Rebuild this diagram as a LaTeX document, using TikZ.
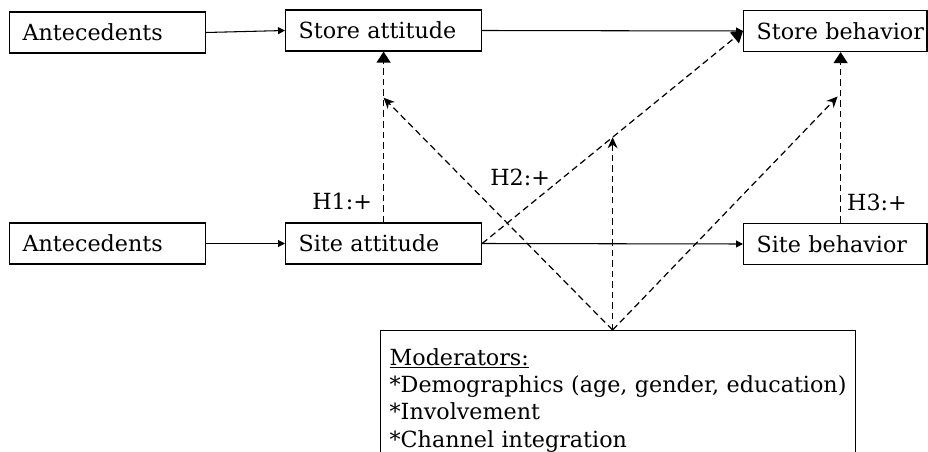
\documentclass[tikz,border=0pt]{standalone}
\usepackage{fontspec}
\setmainfont{DejaVu Serif}
\usetikzlibrary{arrows.meta,calc}
\tikzset{
	box/.style={draw, line width=0.7pt, inner xsep=0.26cm, inner ysep=0pt, minimum height=0.82cm, text width=#1, align=left, anchor=west},
	link/.style={line width=0.6pt, -{Triangle[length=0.14cm,width=0.14cm]}},
	hyp/.style={line width=0.7pt, dash pattern=on 3.7pt off 2.3pt, -{Triangle[length=0.22cm,width=0.28cm]}},
	modarrow/.style={line width=0.7pt, dash pattern=on 3.7pt off 2.3pt, -{Stealth[length=0.22cm,width=0.2cm]}},
	hlabel/.style={inner sep=0pt, pos=0.12}
}
\begin{document}
\begin{tikzpicture}[x=0.02cm, y=-0.02cm, font=\fontsize{12.65}{15.6}\selectfont]
	\useasboundingbox (0,0) rectangle (928,452);
	\clip (0,0) rectangle (928,452);
	% attitude and behavior boxes
	\node[box=3.4cm] (ant1) at (9,32.5) {Antecedents};
	\node[box=3.4cm] (satt) at (285,30.5) {Store attitude};
	\node[box=3.15cm] (sbeh) at (743,31) {\mbox{Store behavior}};
	\node[box=3.4cm] (ant2) at (9,243.5) {Antecedents};
	\node[box=3.4cm] (sitatt) at (285,243.5) {Site attitude};
	\node[box=3.15cm] (sitbeh) at (743,244) {\mbox{Site behavior}};
	\node[draw, line width=0.7pt, anchor=north west, inner xsep=0.18cm, inner ysep=10pt, text width=9.14cm, align=left] (mod) at (380,330)
		{\underline{Moderators:}\\{*}Demographics (age, gender, education)\\{*}Involvement\\{*}Channel integration};
	% points where the moderators act
	\coordinate (h3s) at ($(sitbeh.north)+(5.25,0)$);
	\coordinate (h3e) at ($(sbeh.south)+(5.25,0)$);
	\coordinate (m1) at ($(sitatt.north)!0.73!(satt.south)$);
	\coordinate (m2) at ($(sitatt.east)!0.5!(sbeh.west)$);
	\coordinate (m3) at ($(h3s)!0.74!(h3e)+(-3,0)$);
	\coordinate (mtop) at (m2 |- mod.north);
	% solid paths
	\draw[link] (ant1.east) -- (satt.west);
	\draw[link] (satt.east) -- (sbeh.west);
	\draw[link] (ant2.east) -- (sitatt.west);
	\draw[link] (sitatt.east) -- (sitbeh.west);
	% hypotheses
	\draw[hyp] (sitatt.north) -- node[hlabel, anchor=east, xshift=-0.22cm] (h1) {H1:+} (satt.south);
	\draw[hyp] (sitatt.east) -- node[hlabel, pos=0.31, anchor=east, xshift=-0.25cm] (h2) {H2:+} (sbeh.west);
	\draw[hyp] (h3s) -- node[hlabel, anchor=west, xshift=0.12cm] (h3) {H3:+} (h3e);
	% moderating effects
	\draw[modarrow] (mtop) -- (m1);
	\draw[modarrow] (mtop) -- (m2);
	\draw[modarrow] (mtop) -- (m3);
\end{tikzpicture}
\end{document}
